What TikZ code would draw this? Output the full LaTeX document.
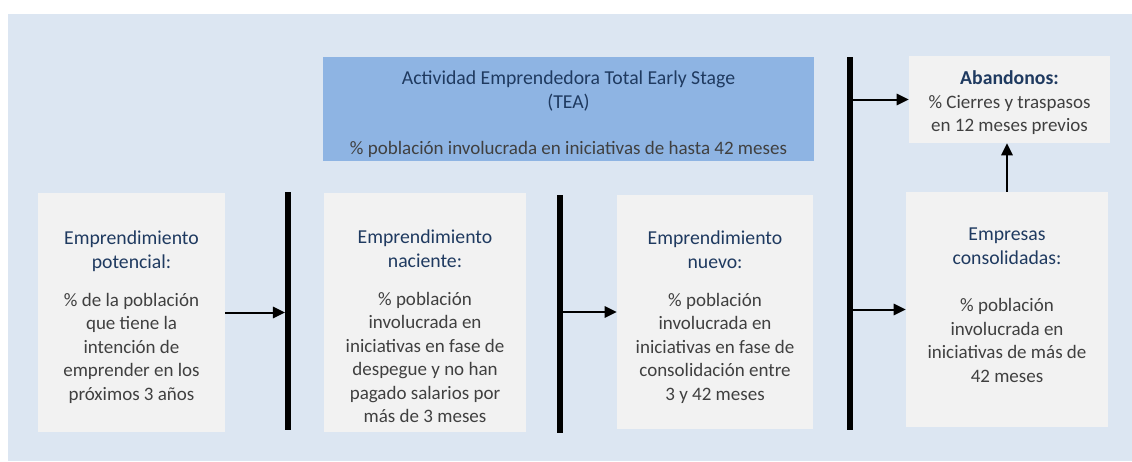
\documentclass[tikz,border=0pt]{standalone}
\usepackage{fontspec}
\setmainfont{Carlito}
\usetikzlibrary{arrows.meta}
\definecolor{bgblue}{HTML}{DCE6F2}
\definecolor{boxgray}{HTML}{F2F2F2}
\definecolor{teablue}{HTML}{8EB4E3}
\definecolor{titleblue}{HTML}{1F3A60}
\definecolor{bodygray}{HTML}{404040}
\newcommand{\hdtitle}[1]{{\fontsize{14.8}{17.6}\selectfont\textcolor{titleblue}{#1}}}
\begin{document}
\begin{tikzpicture}[x=0.75pt,y=-0.75pt,
  box/.style={fill=boxgray, draw=none, inner sep=0pt},
  teabox/.style={fill=teablue, draw=none, inner sep=0pt},
  bar/.style={fill=black, draw=none, inner sep=0pt, minimum width=4.2pt},
  arr/.style={line width=1.5pt, -{Triangle[length=9pt,width=8.5pt]}},
  txt/.style={align=center, inner sep=0pt, anchor=north,
    font=\fontsize{14.25}{17.6}\selectfont, text=bodygray},
]
\useasboundingbox (0,0) rectangle (1132,461);
\fill[bgblue] (8,14) rectangle (1132,461);

% boxes
\node[box, minimum width=140.25pt, minimum height=179.25pt] (pot) at (131.5,312.5) {};
\node[box, minimum width=151.5pt, minimum height=179.25pt] (nac) at (425,312.5) {};
\node[box, minimum width=147pt, minimum height=175.5pt] (nue) at (715,312) {};
\node[box, minimum width=151.5pt, minimum height=176.25pt] (con) at (1007,309.5) {};
\node[box, minimum width=150.75pt, minimum height=65.25pt] (aba) at (1009.5,99.5) {};
\node[teabox, minimum width=368.25pt, minimum height=78pt] (tea) at (568.5,109) {};

% bars
\node[bar, minimum height=178.5pt] (bar1) at (288,311) {};
\node[bar, minimum height=178.5pt] (bar2) at (560,314) {};
\node[bar, minimum height=279.75pt] (bar3) at (850,243.5) {};

% texts
\node[txt] (teaT) at ([yshift=-10.5pt]tea.north)
  {\hdtitle{Actividad Emprendedora Total Early Stage}\\
   \hdtitle{(TEA)}\\[17.4pt]
   \% población involucrada en iniciativas de hasta 42 meses};
\node[txt] (potT) at ([yshift=-28.5pt]pot.north)
  {\hdtitle{Emprendimiento}\\\hdtitle{potencial:}\\[11pt]
   \% de la población\\que tiene la\\intención de\\emprender en los\\próximos 3 años};
\node[txt] (nacT) at ([yshift=-27.75pt]nac.north)
  {\hdtitle{Emprendimiento}\\\hdtitle{naciente:}\\[11pt]
   \% población\\involucrada en\\iniciativas en fase de\\despegue y no han\\pagado salarios por\\más de 3 meses};
\node[txt] (nueT) at ([yshift=-27pt]nue.north)
  {\hdtitle{Emprendimiento}\\\hdtitle{nuevo:}\\[11pt]
   \% población\\involucrada en\\iniciativas en fase de\\consolidación entre\\3 y 42 meses};
\node[txt] (conT) at ([yshift=-27pt]con.north)
  {\hdtitle{Empresas}\\\hdtitle{consolidadas:}\\[18pt]
   \% población\\involucrada en\\iniciativas de más de\\42 meses};
\node[txt] (abaT) at ([yshift=-11.25pt]aba.north)
  {\hdtitle{\bfseries Abandonos:}\\
   \% Cierres y traspasos\\en 12 meses previos};

% arrows
\draw[arr] (pot.east) -- (pot.east -| bar1.west);
\draw[arr] (bar2.east |- nue.west) -- (nue.west);
\draw[arr] (bar3.east |- aba.west) -- (aba.west);
\draw[arr] (bar3.east |- con.west) -- (con.west);
\draw[arr] (con.north) -- (con.north |- aba.south);
\end{tikzpicture}
\end{document}
